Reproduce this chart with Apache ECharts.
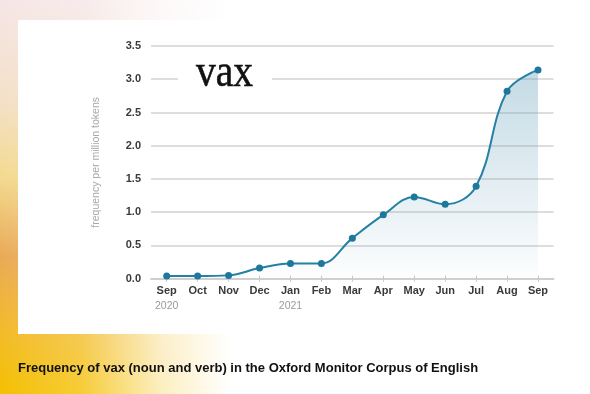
<!DOCTYPE html>
<html>
<head>
<meta charset="utf-8">
<script src="https://cdn.jsdelivr.net/npm/echarts@6/dist/echarts.min.js"></script>
<style>
html,body{margin:0;padding:0;background:#fff;}
#c{width:590px;height:394px;}
</style>
</head>
<body>
<div id="c"></div>
<script>
const months = ['Sep','Oct','Nov','Dec','Jan','Feb','Mar','Apr','May','Jun','Jul','Aug','Sep'];
const years = ['2020','','','','2021','','','','','','','',''];
const frequency = [0.04,0.04,0.05,0.16,0.23,0.23,0.61,0.96,1.23,1.12,1.39,2.82,3.14];
const yTicks = [0,0.5,1,1.5,2,2.5,3,3.5];
const chartWord = 'vax';
const yAxisTitle = 'frequency per million tokens';
const caption = 'Frequency of vax (noun and verb) in the Oxford Monitor Corpus of English';

const chart = echarts.init(document.getElementById('c'), null, {renderer:'canvas'});

const gridTop = 46, gridBottom = 394 - 278.7;
const fontSans = 'Liberation Sans, Arial, Helvetica, sans-serif';

const option = {
  animation: false,
  backgroundColor: '#ffffff',
  graphic: {
    elements: [
      { type:'rect', z:-100, silent:true, shape:{x:0,y:0,width:230,height:394},
        style:{ fill: new echarts.graphic.LinearGradient(0,0,0,1,[
          {offset:0, color:'#f5e6e6'},
          {offset:0.25, color:'#f4e0c8'},
          {offset:0.45, color:'#f3da90'},
          {offset:0.65, color:'#eaaa58'},
          {offset:0.85, color:'#f2bc28'},
          {offset:1, color:'#f5c000'}
        ])}},
      { type:'rect', z:-99, silent:true, shape:{x:0,y:0,width:230,height:394},
        style:{ fill: new echarts.graphic.LinearGradient(0,0,1,0,[
          {offset:0, color:'rgba(255,255,255,0)'},
          {offset:0.35, color:'rgba(255,255,255,0.2)'},
          {offset:0.7, color:'rgba(255,255,255,0.75)'},
          {offset:1, color:'rgba(255,255,255,1)'}
        ])}},
      { type:'rect', z:-98, silent:true, shape:{x:18,y:20,width:572,height:314},
        style:{ fill:'#ffffff' }},
      { type:'rect', z:50, silent:true, shape:{x:178,y:74,width:94,height:10},
        style:{ fill:'#ffffff' }},
      { type:'text', z:51, silent:true, x:224.5, y:74, scaleX:0.86,
        style:{ text: chartWord, fill:'#111111', stroke:'#111111', lineWidth:0.6,
          font:'46px "Liberation Serif", "Times New Roman", serif',
          textAlign:'center', textVerticalAlign:'middle' }},
      { type:'text', z:51, silent:true, x:18, y:368,
        style:{ text: caption, fill:'#111111', font:'bold 13px ' + fontSans,
          textAlign:'left', textVerticalAlign:'middle' }}
    ]
  },
  grid: [
    { left:151, right:590-553.5, top:gridTop, bottom:gridBottom },
    { left:166.7, right:590-538, top:gridTop, bottom:gridBottom }
  ],
  xAxis: [
    { gridIndex:0, type:'value', min:0, max:1, axisLine:{show:true, lineStyle:{color:'#cfcfcf', width:2}},
      axisTick:{show:false}, axisLabel:{show:false}, splitLine:{show:false} },
    { gridIndex:1, type:'category', position:'bottom', data: months, boundaryGap:false,
      axisLine:{show:false},
      axisTick:{show:true, alignWithLabel:true, length:3, lineStyle:{color:'#c8c8c8', width:1}},
      axisLabel:{ margin:5, interval:0,
        formatter:(v, i) => years[i] ? '{m|' + v + '}\n{y|' + years[i] + '}' : '{m|' + v + '}',
        rich:{
          m:{ fontFamily:fontSans, fontSize:11, fontWeight:'bold', color:'#3a3a3a', lineHeight:14 },
          y:{ fontFamily:fontSans, fontSize:10.5, color:'#9a9a9a', lineHeight:16 }
        }},
      splitLine:{show:false} },
    { gridIndex:1, type:'category', position:'bottom', offset:0, data: months, boundaryGap:false,
      axisLine:{show:false},
      axisTick:{show:true, inside:true, alignWithLabel:true, length:3, lineStyle:{color:'#c8c8c8', width:1}},
      axisLabel:{show:false}, splitLine:{show:false} }
  ],
  yAxis: [
    { gridIndex:0, type:'value', min:0, max:3.5, interval:0.5,
      name: yAxisTitle, nameLocation:'middle', nameGap:49, nameRotate:90,
      nameTextStyle:{ fontFamily:fontSans, fontSize:10.5, color:'#a8a8a8' },
      axisLine:{show:false}, axisTick:{show:false},
      axisLabel:{ margin:10, fontFamily:fontSans, fontSize:11, fontWeight:'bold', color:'#3a3a3a',
        formatter:(v)=> yTicks.indexOf(v) >= 0 ? v.toFixed(1) : '' },
      splitLine:{ show:true, lineStyle:{color:'#d2d2d2', width:1.5} } },
    { gridIndex:1, type:'value', min:0, max:3.5, interval:0.5, show:false, splitLine:{show:false} }
  ],
  series: [{
    type:'line', xAxisIndex:1, yAxisIndex:1, data: frequency,
    smooth:0.38, symbol:'circle', symbolSize:7,
    itemStyle:{ color:'#1d789c' },
    lineStyle:{ color:'#2581a4', width:2 },
    areaStyle:{ color: new echarts.graphic.LinearGradient(0,0,0,1,[
      {offset:0, color:'rgba(110,165,190,0.58)'},
      {offset:1, color:'rgba(110,165,190,0.02)'}
    ])},
    z:5
  }]
};
chart.setOption(option);
</script>
</body>
</html>
